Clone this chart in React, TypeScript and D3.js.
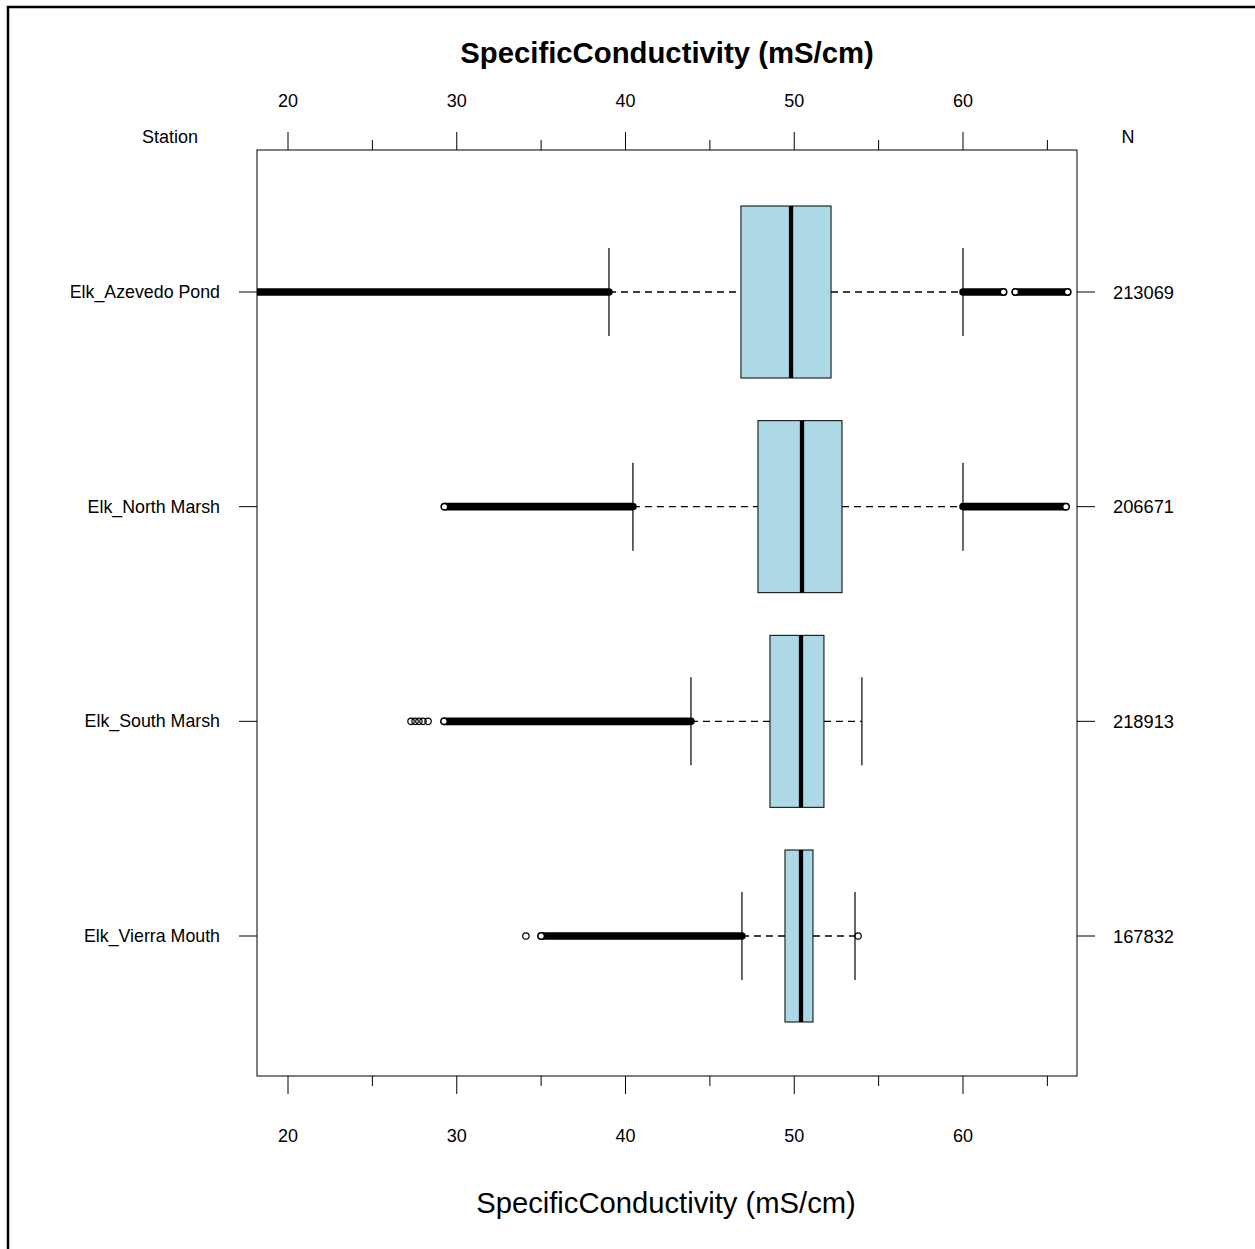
import React from "react";
import * as d3 from "d3";

const stations = ["Elk_Azevedo Pond", "Elk_North Marsh", "Elk_South Marsh", "Elk_Vierra Mouth"];
const counts = [213069, 206671, 218913, 167832];
const lowerWhisker = [39.02, 40.44, 43.88, 46.9];
const q1 = [46.84, 47.85, 48.56, 49.45];
const median = [49.81, 50.46, 50.4, 50.4];
const q3 = [52.18, 52.83, 51.76, 51.11];
const upperWhisker = [60.0, 60.0, 54.01, 53.6];
// dense runs of overlapping outlier circles [from, to]
const outlierRuns: [number, number][][] = [
  [[17.0, 39.02], [60.0, 62.4], [63.1, 66.2]],
  [[29.27, 40.44], [60.0, 66.1]],
  [[29.25, 43.88]],
  [[35.0, 46.9]],
];
// isolated outliers
const sparseOutliers: number[][] = [
  [],
  [],
  [27.29, 27.53, 27.76, 28.0, 28.3],
  [34.1, 53.78],
];
const majorTicks = [20, 30, 40, 50, 60];
const minorTicks = [25, 35, 45, 55, 65];
const axisTitle = "SpecificConductivity (mS/cm)";

const W = 1255;
const H = 1249;
const frame = { left: 257, right: 1077, top: 150, bottom: 1076 };
const FONT = "'Liberation Sans', Arial, sans-serif";

export default function App() {
  const x = d3.scaleLinear().domain([20, 60]).range([288, 963]);
  const y = d3.scalePoint<string>().domain(stations).range([292, 936]);
  const boxHalf = 86;
  const capHalf = 44;
  const r = 3.2;

  return (
    <div style={{ position: "absolute", left: 0, top: 0 }}>
      <svg width={W} height={H} style={{ display: "block" }} fontFamily={FONT}>
        <rect x={0} y={0} width={W} height={H} fill="#fff" />
        <rect x={8} y={7} width={W + 10} height={H + 10} fill="none" stroke="#000" strokeWidth={2.5} />
        <defs>
          <clipPath id="panel">
            <rect x={frame.left} y={frame.top} width={frame.right - frame.left} height={frame.bottom - frame.top} />
          </clipPath>
        </defs>

        {/* titles */}
        <text x={667} y={52} textAnchor="middle" dominantBaseline="central" fontSize={29.3} fontWeight="bold">
          {axisTitle}
        </text>
        <text x={666} y={1203} textAnchor="middle" dominantBaseline="central" fontSize={29.2}>
          {axisTitle}
        </text>
        <text x={170} y={137} textAnchor="middle" dominantBaseline="central" fontSize={18}>Station</text>
        <text x={1128} y={137} textAnchor="middle" dominantBaseline="central" fontSize={18}>N</text>

        {/* x ticks top and bottom */}
        {majorTicks.map((t) => (
          <g key={"M" + t}>
            <line x1={x(t)} x2={x(t)} y1={frame.top} y2={frame.top - 18} stroke="#000" />
            <line x1={x(t)} x2={x(t)} y1={frame.bottom} y2={frame.bottom + 18} stroke="#000" />
            <text x={x(t)} y={101} textAnchor="middle" dominantBaseline="central" fontSize={18}>{t}</text>
            <text x={x(t)} y={1136} textAnchor="middle" dominantBaseline="central" fontSize={18}>{t}</text>
          </g>
        ))}
        {minorTicks.map((t) => (
          <g key={"m" + t}>
            <line x1={x(t)} x2={x(t)} y1={frame.top} y2={frame.top - 10} stroke="#000" />
            <line x1={x(t)} x2={x(t)} y1={frame.bottom} y2={frame.bottom + 10} stroke="#000" />
          </g>
        ))}

        {/* y ticks and labels */}
        {stations.map((s, i) => (
          <g key={s}>
            <line x1={frame.left - 18} x2={frame.left} y1={y(s)} y2={y(s)} stroke="#000" />
            <line x1={frame.right} x2={frame.right + 18} y1={y(s)} y2={y(s)} stroke="#000" />
            <text x={220} y={y(s)} textAnchor="end" dominantBaseline="central" fontSize={17.8}>{s}</text>
            <text x={1113} y={y(s)} textAnchor="start" dominantBaseline="central" fontSize={18.3}>{counts[i]}</text>
          </g>
        ))}

        {/* boxes */}
        <g clipPath="url(#panel)">
          {stations.map((s, i) => {
            const cy = y(s) as number;
            return (
              <g key={s}>
                <line x1={x(lowerWhisker[i])} x2={x(q1[i])} y1={cy} y2={cy} stroke="#000" strokeWidth={1.3} strokeDasharray="7,5" />
                <line x1={x(q3[i])} x2={x(upperWhisker[i])} y1={cy} y2={cy} stroke="#000" strokeWidth={1.3} strokeDasharray="7,5" />
                <line x1={x(lowerWhisker[i])} x2={x(lowerWhisker[i])} y1={cy - capHalf} y2={cy + capHalf} stroke="#000" strokeWidth={1.2} />
                <line x1={x(upperWhisker[i])} x2={x(upperWhisker[i])} y1={cy - capHalf} y2={cy + capHalf} stroke="#000" strokeWidth={1.2} />
                <rect x={x(q1[i])} y={cy - boxHalf} width={x(q3[i]) - x(q1[i])} height={2 * boxHalf} fill="#ADD8E6" stroke="#000" />
                <line x1={x(median[i])} x2={x(median[i])} y1={cy - boxHalf} y2={cy + boxHalf} stroke="#000" strokeWidth={4.3} />
                {outlierRuns[i].map(([a, b], k) => (
                  <g key={k}>
                    <line x1={x(a)} x2={x(b)} y1={cy} y2={cy} stroke="#000" strokeWidth={2 * r + 1.2} strokeLinecap="round" />
                    {[a, b]
                      .filter((v) => v !== lowerWhisker[i] && v !== upperWhisker[i])
                      .map((v, j) => (
                        <circle key={j} cx={x(v)} cy={cy} r={r} fill="#fff" stroke="#000" strokeWidth={1.4} />
                      ))}
                  </g>
                ))}
                {sparseOutliers[i].map((v, k) => (
                  <circle key={"s" + k} cx={x(v)} cy={cy} r={r} fill="none" stroke="#000" strokeWidth={1.2} />
                ))}
              </g>
            );
          })}
        </g>

        <rect x={frame.left} y={frame.top} width={frame.right - frame.left} height={frame.bottom - frame.top} fill="none" stroke="#000" />
      </svg>
    </div>
  );
}
